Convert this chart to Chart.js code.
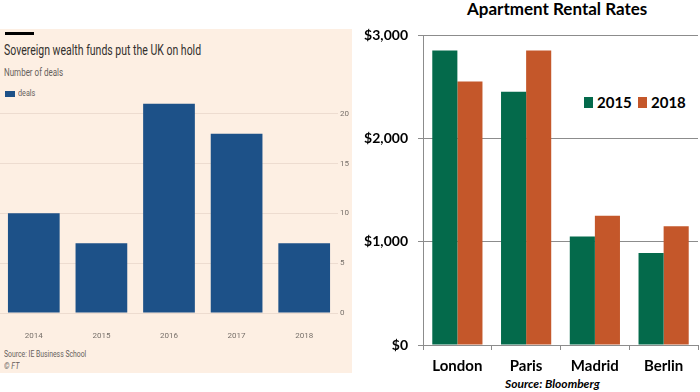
<!DOCTYPE html>
<html>
<head>
<meta charset="utf-8">
<script src="https://cdn.jsdelivr.net/npm/chart.js@4/dist/chart.umd.min.js"></script>
<style>
  body { margin: 0; width: 700px; height: 392px; background: #fff; position: relative; overflow: hidden; }
  .abs { position: absolute; white-space: nowrap; }
  #ftPanel { position: absolute; left: 0; top: 29px; width: 352px; height: 344px; background: #fdefe3; }
  .ft { font-family: Roboto, sans-serif; transform-origin: 0 0; }
  .xl { font-family: Lato, "Open Sans", sans-serif; font-weight: bold; color: #000; }
</style>
</head>
<body>
<div id="ftPanel"></div>
<div class="abs" style="left:5px;top:32px;width:29px;height:3px;background:#000;"></div>
<div class="abs ft" style="left:4px;top:42px;font-size:14px;color:#33302e;transform:scaleX(0.75);">Sovereign wealth funds put the UK on hold</div>
<div class="abs ft" style="left:4px;top:67px;font-size:10px;color:#66605c;transform:scaleX(0.8);">Number of deals</div>
<div class="abs" style="left:5px;top:91px;width:10px;height:6px;background:#1d5188;"></div>
<div class="abs ft" style="left:18px;top:88px;font-size:8.5px;color:#66605c;transform:scaleX(0.85);">deals</div>
<div class="abs ft" style="left:4px;top:349px;font-size:9px;color:#66605c;transform:scaleX(0.76);">Source: IE Business School</div>
<div class="abs ft" style="left:4px;top:361px;font-size:9px;color:#66605c;font-style:italic;transform:scaleX(0.8);">© FT</div>
<div class="abs" style="left:0px;top:87px;"><canvas id="ftChart" width="352" height="253"></canvas></div>

<div class="abs xl" style="left:467px;top:-2px;font-size:17px;">Apartment Rental Rates</div>
<div class="abs" style="left:584px;top:97px;width:9px;height:11px;background:#046a4b;"></div>
<div class="abs xl" style="left:597px;top:93px;font-size:15px;">2015</div>
<div class="abs" style="left:638px;top:97px;width:9px;height:11px;background:#c4572a;"></div>
<div class="abs xl" style="left:651px;top:93px;font-size:15px;">2018</div>
<div class="abs xl" style="left:505px;top:376px;font-size:12px;font-style:italic;">Source: Bloomberg</div>
<div class="abs" style="left:360px;top:0px;"><canvas id="rentChart" width="340" height="392"></canvas></div>

<script>
'use strict'

// left: FT deals chart
const dealYears = ['2014', '2015', '2016', '2017', '2018'];
const dealCounts = [10, 7, 21, 18, 7];

// right: rental rates
const cities = ['London', 'Paris', 'Madrid', 'Berlin'];
const rent2015 = [2850, 2450, 1050, 890];
const rent2018 = [2550, 2850, 1250, 1150];

const ftFont = 'Roboto, sans-serif';
new Chart(document.getElementById('ftChart'), {
  type: 'bar',
  data: {
    labels: dealYears,
    datasets: [{
      label: 'deals',
      data: dealCounts,
      backgroundColor: '#1d5188',
      borderWidth: 0,
      categoryPercentage: 1,
      barPercentage: 0.765
    }]
  },
  options: {
    responsive: false,
    animation: false,
    layout: { padding: { top: 3, left: 0, right: 0, bottom: 0 } },
    plugins: { legend: { display: false }, tooltip: { enabled: false } },
    scales: {
      x: {
        grid: { display: false },
        border: { display: false },
        ticks: { color: '#77706a', font: { family: ftFont, size: 8 }, padding: 10 },
        afterFit: function(s) { s.height = 27; }
      },
      y: {
        position: 'right',
        min: 0,
        max: 22,
        grid: { color: '#eddcd0', drawTicks: false },
        border: { display: false },
        ticks: { stepSize: 5, color: '#77706a', font: { family: ftFont, size: 8 }, padding: 2 },
        afterBuildTicks: function(s) { s.ticks = s.ticks.filter(t => t.value % 5 === 0); },
        afterFit: function(s) { s.width = 14; }
      }
    }
  }
});

const boldFont = { family: 'Lato, "Open Sans", sans-serif', weight: 'bold' };
new Chart(document.getElementById('rentChart'), {
  type: 'bar',
  data: {
    labels: cities,
    datasets: [{
      label: '2015',
      data: rent2015,
      backgroundColor: '#046a4b',
      borderWidth: 0
    }, {
      label: '2018',
      data: rent2018,
      backgroundColor: '#c4572a',
      borderWidth: 0
    }]
  },
  options: {
    responsive: false,
    animation: false,
    layout: { padding: { top: 35, right: 2, bottom: 17, left: 0 } },
    datasets: { bar: { categoryPercentage: 0.73, barPercentage: 1 } },
    plugins: { legend: { display: false }, tooltip: { enabled: false } },
    scales: {
      x: {
        grid: { drawOnChartArea: false, drawTicks: true, tickLength: 5, color: '#8c8c8c' },
        border: { color: '#8c8c8c' },
        ticks: { color: '#000', font: Object.assign({ size: 15 }, boldFont), padding: 7 },
        afterFit: function(s) { s.height = 30; }
      },
      y: {
        min: 0,
        max: 3000,
        grid: { color: '#8c8c8c', tickLength: 5 },
        border: { color: '#8c8c8c' },
        ticks: {
          stepSize: 1000,
          color: '#000',
          font: Object.assign({ size: 14 }, boldFont),
          padding: 10,
          callback: v => '$' + v.toLocaleString('en-US')
        },
        afterFit: function(s) { s.width = 63; }
      }
    }
  }
});
</script>
</body>
</html>
